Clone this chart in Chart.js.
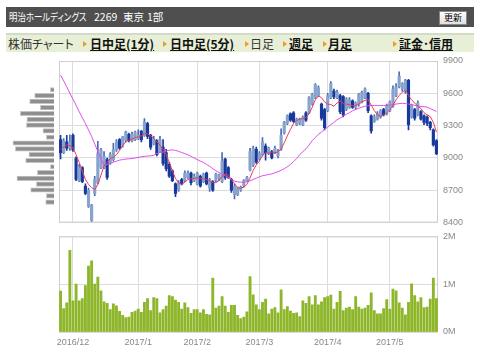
<!DOCTYPE html>
<html>
<head>
<meta charset="utf-8">
<script src="https://cdn.jsdelivr.net/npm/chart.js@4/dist/chart.umd.min.js"></script>
<style>
  body { margin: 0; background: #fff; font-family: "Noto Sans CJK JP", sans-serif; }
  #wrap { position: relative; width: 480px; height: 364px; overflow: hidden; }
  .title { position: absolute; left: 6px; top: 7px; width: 468px; height: 20px; background: #4f4f4f; }
  .title span { position: absolute; top: 1px; color: #fff; font-size: 10.5px; line-height: 18px; font-feature-settings: "palt"; white-space: nowrap; }
  .title .name { transform: scaleX(0.8); transform-origin: left center; }
  .title .btn { left: 433px; top: 4px; width: 26px; height: 12px; background: linear-gradient(#fff, #e0e0e0); border: 1px solid #888; font-size: 9px; line-height: 12px; text-align: center; color: #000; }
  .nav { position: absolute; left: 6px; top: 33px; width: 468px; height: 17px; background: #e7f0d6; border-top: 2px solid #d3dac8; }
  .nav span { position: absolute; top: 0; font-size: 12px; line-height: 17px; white-space: nowrap; font-feature-settings: "palt"; color: #333; }
  .nav .arr { top: 6px; width: 0; height: 0; border-left: 4px solid #f29b1d; border-top: 3px solid transparent; border-bottom: 3px solid transparent; }
  .nav .lnk { font-weight: bold; text-decoration: underline; color: #111; }
  canvas { position: absolute; }
</style>
</head>
<body>
<div id="wrap">
  <div class="title">
    <span class="name" style="left:3px">明治ホールディングス</span><span style="left:88px">2269</span><span style="left:117px">東京</span><span style="left:141px">1部</span>
    <span class="btn">更新</span>
  </div>
  <div class="nav">
    <span style="left:2px">株価チャート</span>
    <span class="arr" style="left:77px"></span><span class="lnk" style="left:84px">日中足(1分)</span>
    <span class="arr" style="left:157px"></span><span class="lnk" style="left:164px">日中足(5分)</span>
    <span class="arr" style="left:239px"></span><span style="left:244px">日足</span>
    <span class="arr" style="left:277px"></span><span class="lnk" style="left:283px">週足</span>
    <span class="arr" style="left:317px"></span><span class="lnk" style="left:322px">月足</span>
    <span class="arr" style="left:387px"></span><span class="lnk" style="left:393px">証金･信用</span>
  </div>
  <canvas id="profile" width="59" height="183" style="left:0;top:50px"></canvas>
  <canvas id="price" width="480" height="183" style="left:0;top:50px"></canvas>
  <canvas id="volume" width="480" height="138" style="left:0;top:226px"></canvas>
</div>
<script>
// daily candles, 2016/11 end .. 2017/5
const opens  = [9170,9050,9150,9090,9210,9000,8790,8910,8740,8550,8420,8670,8770,8910,8910,8985,8955,8985,9075,9170,
                9120,9165,9220,9160,9170,9180,9250,9210,9320,9210,9130,9160,9060,9100,9050,8940,8880,8760,8700,8800,
                8790,8820,8860,8790,8760,8830,8780,8860,8720,8780,8790,8810,8780,8990,8910,8800,8660,8660,8700,8740,
                8790,8890,8930,9080,8990,9030,9110,9040,9060,9050,9020,9080,9230,9320,9410,9420,9310,9320,9310,9420,
                9420,9500,9560,9580,9500,9450,9440,9560,9620,9560,9580,9570,9450,9470,9530,9470,9500,9520,9560,9600,
                9390,9340,9360,9380,9450,9410,9440,9480,9580,9660,9640,9620,9720,9380,9450,9400,9430,9390,9380,9330,
                9260,9160];
const highs  = [9210,9180,9210,9215,9225,9010,8940,8920,8760,8720,8570,8830,9155,9090,9060,9000,9050,9135,9170,9180,
                9200,9250,9230,9240,9250,9260,9255,9365,9330,9220,9200,9170,9200,9170,9080,8960,8890,8770,8790,8810,
                8880,8880,8870,8850,8870,8840,8860,8870,8810,8790,8860,8850,9050,9000,8920,8810,8760,8730,8740,8800,
                8830,9090,9110,9100,9060,9190,9130,9100,9070,9110,9080,9270,9340,9400,9420,9430,9370,9370,9390,9430,
                9570,9600,9690,9670,9510,9460,9600,9710,9640,9630,9590,9580,9560,9560,9540,9520,9600,9620,9650,9610,
                9400,9400,9430,9450,9460,9500,9530,9670,9690,9800,9700,9730,9730,9500,9460,9530,9440,9400,9390,9340,
                9270,9170];
const lows   = [8990,9040,9070,9070,9060,8790,8780,8770,8660,8540,8410,8650,8760,8900,8900,8800,8940,8970,9060,9080,
                9100,9150,9150,9150,9160,9170,9150,9200,9180,9080,9120,9020,9050,8930,8880,8820,8780,8640,8690,8750,
                8780,8810,8750,8780,8750,8730,8770,8750,8690,8690,8780,8790,8770,8800,8810,8680,8620,8650,8690,8730,
                8780,8880,8920,8950,8980,9020,8980,9030,8990,9040,9000,9070,9220,9310,9340,9330,9300,9310,9300,9340,
                9410,9490,9550,9570,9350,9260,9430,9550,9550,9550,9410,9380,9440,9460,9460,9450,9480,9510,9550,9420,
                9230,9330,9350,9370,9390,9400,9430,9470,9570,9650,9620,9600,9260,9370,9350,9390,9350,9310,9300,9260,
                9110,9030];
const closes = [9050,9160,9090,9150,9075,8800,8910,8780,8670,8700,8560,8800,9045,9075,9015,8820,9030,9075,9150,9090,
                9195,9240,9160,9220,9240,9210,9170,9335,9200,9100,9180,9030,9170,8950,8900,8830,8790,8670,8770,8760,
                8860,8860,8770,8830,8860,8740,8850,8760,8800,8700,8850,8840,8970,8820,8820,8700,8740,8720,8730,8790,
                8820,9060,9090,8960,9040,9150,9050,9090,9000,9090,9060,9210,9330,9390,9350,9340,9360,9360,9380,9350,
                9560,9590,9680,9650,9370,9280,9580,9690,9570,9610,9430,9400,9550,9540,9470,9510,9590,9610,9640,9440,
                9250,9380,9410,9440,9400,9480,9520,9640,9660,9760,9690,9720,9310,9490,9370,9510,9360,9330,9320,9280,
                9120,9040];
// 5-day and 25-day moving averages as drawn
const ma5  = [9080,9100,9120,9115,9095,9030,8960,8880,8800,8755,8725,8705,8755,8840,8925,8960,8995,9005,9030,9070,
              9115,9150,9165,9175,9190,9195,9205,9225,9225,9205,9180,9150,9120,9080,9030,8960,8880,8810,8770,8755,
              8775,8800,8805,8810,8815,8810,8808,8800,8785,8775,8770,8790,8830,8850,8840,8800,8760,8725,8720,8730,
              8755,8815,8885,8935,8970,9025,9050,9045,9055,9050,9055,9085,9140,9205,9265,9320,9350,9360,9365,9375,
              9410,9470,9540,9575,9560,9520,9500,9495,9480,9510,9530,9505,9500,9495,9485,9485,9500,9520,9535,9540,
              9490,9440,9400,9385,9400,9420,9450,9490,9540,9580,9610,9630,9580,9540,9510,9480,9460,9420,9400,9385,
              9330,9240];
const ma25 = [9770,9715,9660,9600,9545,9490,9430,9375,9320,9260,9200,9130,9060,8990,8930,8940,8950,8960,8970,8980,
              8985,8990,8992,8995,9000,9005,9010,9015,9018,9020,9025,9040,9050,9055,9065,9072,9075,9070,9062,9050,
              9040,9030,9015,9000,8985,8972,8958,8940,8922,8900,8882,8865,8850,8835,8820,8800,8785,8778,8775,8775,
              8780,8788,8800,8812,8825,8835,8840,8847,8852,8862,8872,8885,8900,8918,8940,8965,8995,9030,9060,9085,
              9120,9160,9190,9220,9240,9265,9285,9310,9330,9355,9370,9390,9405,9420,9438,9450,9462,9472,9480,9485,
              9487,9487,9486,9486,9487,9488,9490,9495,9500,9505,9507,9505,9500,9495,9488,9482,9478,9475,9472,9458,
              9445,9432];
// volume, thousand shares
const volume = [854,490,610,1710,650,1000,650,700,970,1380,1490,1000,1150,860,630,600,470,590,550,430,
                350,300,310,410,440,480,410,620,700,450,720,700,400,470,540,760,740,670,620,480,
                610,510,390,470,470,400,470,370,360,1130,500,540,740,540,410,560,560,350,280,310,
                420,1160,780,570,470,620,690,380,480,510,400,880,470,530,440,390,400,320,650,600,
                740,570,760,570,630,720,740,770,480,620,850,450,500,520,470,740,520,480,500,560,
                820,450,380,380,490,680,480,900,860,610,500,360,620,1010,760,630,720,510,520,690,
                1130,700];
const monthStarts = [4, 25, 44, 64, 86, 106];
const monthLabels = ['2016/12', '2017/1', '2017/2', '2017/3', '2017/4', '2017/5'];
// volume-by-price profile on the left
const profilePrices = [9710,9650,9590,9525,9465,9405,9345,9285,9220,9160,9100,9040,8980,8915,8855,8795,8735,8675,8615,8550];
const profileVolume = [36,193,243,136,336,270,276,110,76,410,386,250,283,36,166,370,176,233,76,83];

const UP = '#87a3cd', DOWN = '#18399c';
const dayLabels = closes.map(() => '');
monthStarts.forEach((d, k) => { dayLabels[d] = monthLabels[k]; });

const bodies = opens.map((o, i) => [o, closes[i]]);
const wicks = lows.map((l, i) => [l, highs[i]]);
const bodyColors = opens.map((o, i) => closes[i] >= o ? UP : DOWN);
const wickColors = opens.map((o, i) => closes[i] >= o ? '#4a6cb0' : DOWN);

const tickFont = { family: 'Liberation Sans', size: 9 };
const monthGrid = ctx => monthStarts.includes(ctx.index) ? '#dcdcdc' : 'rgba(0,0,0,0)';

const frame = {
  id: 'frame',
  beforeDatasetsDraw(chart) {
    const a = chart.chartArea, c = chart.ctx;
    c.save();
    c.strokeStyle = '#cfcfcf';
    c.lineWidth = 1;
    c.strokeRect(a.left + 0.5, a.top + 0.5, a.right - a.left - 1, a.bottom - a.top - 1);
    c.restore();
  }
};

new Chart(document.getElementById('price'), {
  type: 'bar',
  data: {
    labels: dayLabels,
    datasets: [
      { type: 'line', data: ma5, borderColor: '#ec3a5c', borderWidth: 1, pointRadius: 0, order: 0 },
      { type: 'line', data: ma25, borderColor: '#e04cf0', borderWidth: 1, pointRadius: 0, order: 0 },
      { data: bodies, backgroundColor: bodyColors, barThickness: 2.5, minBarLength: 1, grouped: false, order: 1 },
      { data: wicks, backgroundColor: wickColors, barThickness: 1, grouped: false, order: 2 }
    ]
  },
  options: {
    responsive: false,
    animation: false,
    plugins: { legend: { display: false }, tooltip: { enabled: false } },
    layout: { padding: { left: 59, top: 11, bottom: 6, right: 0 } },
    scales: {
      x: {
        ticks: { display: false, autoSkip: false },
        grid: { offset: false, drawTicks: false, color: monthGrid },
        border: { display: false },
        afterFit: s => { s.height = 0; }
      },
      y: {
        position: 'right', min: 8400, max: 9900,
        ticks: { stepSize: 300, color: '#888', font: tickFont, padding: 5, callback: v => String(v) },
        grid: { drawTicks: false, color: '#dcdcdc' },
        border: { display: false },
        afterFit: s => { s.width = 42; }
      }
    }
  },
  plugins: [frame]
});

new Chart(document.getElementById('volume'), {
  type: 'bar',
  data: {
    labels: dayLabels,
    datasets: [{ data: volume, backgroundColor: '#8db62a', barThickness: 2.2 }]
  },
  options: {
    responsive: false,
    animation: false,
    plugins: { legend: { display: false }, tooltip: { enabled: false } },
    layout: { padding: { left: 59, top: 6, bottom: 0, right: 0 } },
    scales: {
      x: {
        ticks: { autoSkip: false, maxRotation: 0, minRotation: 0, padding: 5, color: '#888', font: tickFont,
                 callback: (v, i) => dayLabels[i] },
        grid: { offset: false, drawTicks: false, color: monthGrid },
        border: { display: false },
        afterFit: s => { s.height = 32; }
      },
      y: {
        position: 'right', min: 0, max: 2000,
        ticks: { stepSize: 1000, color: '#888', font: tickFont, padding: 5, callback: v => (v / 1000) + 'M' },
        grid: { drawTicks: false, color: '#dcdcdc' },
        border: { display: false },
        afterFit: s => { s.width = 42; }
      }
    }
  },
  plugins: [frame]
});

new Chart(document.getElementById('profile'), {
  type: 'bar',
  data: {
    datasets: [{
      data: profilePrices.map((p, i) => ({ x: profileVolume[i], y: p })),
      backgroundColor: '#8e8e8e', borderColor: '#c4c4c4', borderWidth: 1, barThickness: 4.5
    }]
  },
  options: {
    indexAxis: 'y',
    responsive: false,
    animation: false,
    plugins: { legend: { display: false }, tooltip: { enabled: false } },
    layout: { padding: { left: 0, top: 11, bottom: 6, right: 5 } },
    scales: {
      y: { type: 'linear', min: 8400, max: 9900, display: false },
      x: { min: 0, max: 540, reverse: true, display: false }
    }
  }
});
</script>
</body>
</html>
